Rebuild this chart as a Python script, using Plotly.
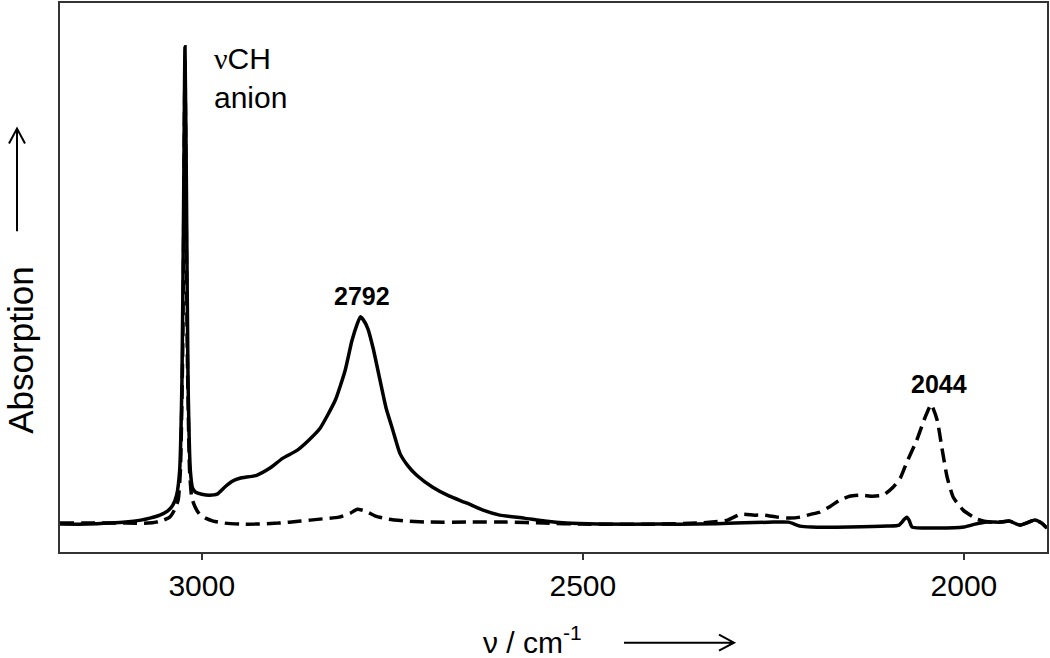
import plotly.graph_objects as go

# wavenumbers (cm^-1) and absorption (arbitrary units)
solid_nu = [3186, 3150, 3120, 3100, 3080, 3068, 3055, 3045, 3038, 3033, 3029, 3026, 3024, 3022,
            3020, 3018, 3015, 3012, 3008, 3000, 2990, 2980, 2970, 2960, 2950, 2928, 2911, 2894,
            2875, 2860, 2845, 2825, 2812, 2803, 2796, 2792, 2788, 2782, 2775, 2766, 2758, 2750,
            2740, 2730, 2718, 2697, 2675, 2652, 2631, 2609, 2577, 2550, 2522, 2480, 2400, 2350,
            2300, 2250, 2230, 2215, 2200, 2150, 2100, 2085, 2078, 2075, 2072, 2068, 2040, 2000,
            1985, 1970, 1953, 1940, 1927, 1915, 1907, 1898, 1891]
solid_abs = [-1, -1, 0, 1, 3, 5, 8, 12, 18, 28, 53, 143, 303, 478,
             323, 143, 53, 35, 31, 29, 28, 29, 36, 42, 45, 48, 55, 65,
             73, 83, 95, 123, 153, 183, 200, 207, 204, 195, 175, 143, 115, 95,
             70, 58, 48, 36, 27, 20, 13, 8, 5, 2, 0, -1, -1, -1,
             0, 1, 1, -3, -4, -4, -3, -2, 4, 6, 3, -4, -5, -4,
             -1, 1, 1, 2, -2, 1, 3, 0, -5]

dashed_nu = [3186, 3100, 3070, 3060, 3050, 3042, 3036, 3031, 3028, 3025, 3023, 3022, 3021, 3019,
             3016, 3013, 3008, 3003, 2995, 2985, 2970, 2950, 2930, 2900, 2870, 2845, 2820, 2805,
             2796, 2785, 2772, 2755, 2730, 2700, 2650, 2600, 2550, 2500, 2400, 2350, 2330, 2310,
             2293, 2275, 2261, 2245, 2228, 2215, 2200, 2189, 2175, 2163, 2150, 2135, 2120, 2106,
             2093, 2083, 2075, 2062, 2051, 2043, 2035, 2029, 2022, 2014, 2001, 1983, 1966, 1953,
             1940, 1927, 1915, 1907, 1898, 1891]
dashed_abs = [0, 0, 0, 1, 3, 6, 13, 23, 53, 173, 373, 463, 373, 173,
              53, 25, 15, 9, 5, 2, 0, -1, -1, 0, 2, 4, 6, 10,
              14, 12, 7, 4, 2, 1, 1, 1, 0, -1, -1, 0, 1, 3,
              9, 8, 8, 6, 5, 6, 9, 11, 17, 23, 27, 28, 27, 28,
              36, 46, 61, 83, 106, 119, 103, 76, 46, 26, 13, 4, 1, 1,
              2, -2, 1, 3, 0, -5]

tick_vals = [3000, 2500, 2000]
tick_text = ["3000", "2500", "2000"]

FONT = "Liberation Sans, Arial, sans-serif"

fig = go.Figure()
fig.add_trace(go.Scatter(x=dashed_nu, y=dashed_abs, mode="lines",
                         line=dict(color="black", width=3.5, dash="14px,7px",
                                   shape="spline", smoothing=0.5)))
fig.add_trace(go.Scatter(x=solid_nu, y=solid_abs, mode="lines",
                         line=dict(color="black", width=3.5, shape="spline", smoothing=0.5)))

fig.update_layout(
    width=1050, height=658,
    margin=dict(l=60, r=3, t=1, b=106),
    paper_bgcolor="white", plot_bgcolor="white",
    showlegend=False,
    font=dict(family=FONT, color="black"),
    xaxis=dict(range=[3186, 1891], tickvals=tick_vals, ticktext=tick_text,
               ticks="outside", ticklen=6, tickwidth=1.5, tickcolor="#333",
               showline=True, linecolor="#333", linewidth=1.5, mirror=True,
               showgrid=False, zeroline=False, tickfont=dict(size=30, family=FONT)),
    yaxis=dict(range=[-29, 522], showticklabels=False, ticks="",
               showline=True, linecolor="#333", linewidth=1.5, mirror=True,
               showgrid=False, zeroline=False),
)

fig.add_annotation(x=2986, y=485, xref="x", yref="y",
                   text='<span style="font-family:Liberation Serif">ν</span>CH<br>anion',
                   showarrow=False, xanchor="left", yanchor="top", align="left",
                   font=dict(size=30, family=FONT))
fig.add_annotation(x=2790, y=228, xref="x", yref="y", text="<b>2792</b>",
                   showarrow=False, xanchor="center", yanchor="middle",
                   font=dict(size=25, family=FONT))
fig.add_annotation(x=2033, y=140, xref="x", yref="y", text="<b>2044</b>",
                   showarrow=False, xanchor="center", yanchor="middle",
                   font=dict(size=25, family=FONT))

# axis titles
def px(xp):
    return (xp - 60) / 987.0

def py(yp):
    return (552 - yp) / 551.0

fig.add_annotation(x=px(481), y=py(640), xref="paper", yref="paper",
                   text="ν / cm<sup>-1</sup>", showarrow=False,
                   xanchor="left", yanchor="middle", font=dict(size=30, family=FONT))
fig.add_annotation(x=px(21), y=py(350), xref="paper", yref="paper",
                   text="Absorption", textangle=-90, showarrow=False,
                   xanchor="center", yanchor="middle", font=dict(size=35, family=FONT))

# arrows next to axis titles
ax_y = 643
fig.add_shape(type="path", xref="paper", yref="paper",
              path=f"M {px(624)},{py(ax_y)} L {px(734)},{py(ax_y)} "
                   f"M {px(719)},{py(ax_y-8)} L {px(734)},{py(ax_y)} L {px(719)},{py(ax_y+8)}",
              line=dict(color="black", width=2))
ay_x = 17
fig.add_shape(type="path", xref="paper", yref="paper",
              path=f"M {px(ay_x)},{py(230)} L {px(ay_x)},{py(127)} "
                   f"M {px(ay_x-8)},{py(142)} L {px(ay_x)},{py(127)} L {px(ay_x+8)},{py(142)}",
              line=dict(color="black", width=2))

fig.write_html("out.html", config={"displayModeBar": False},
               post_script="document.body.style.margin='0px';"
               "document.body.style.overflow='hidden';")
